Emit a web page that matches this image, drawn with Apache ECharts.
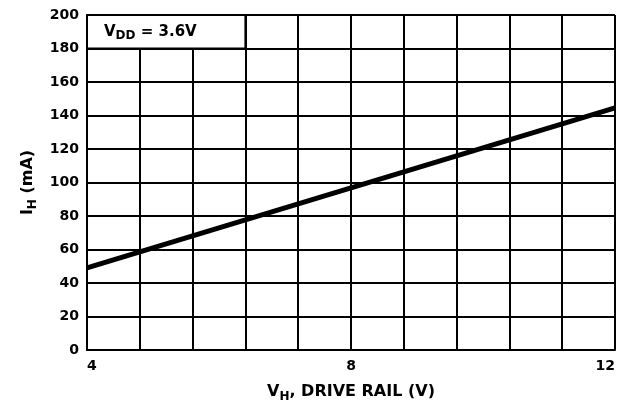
<!DOCTYPE html>
<html>
<head>
<meta charset="utf-8">
<script src="https://cdn.jsdelivr.net/npm/echarts@6/dist/echarts.min.js"></script>
<style>
  html, body { margin: 0; padding: 0; background: #fff; }
  #chart { width: 641px; height: 406px; }
</style>
</head>
<body>
<div id="chart"></div>
<script>
// drive rail voltage (V) vs I_H (mA)
const drive_rail = [4, 12];
const current_ma = [49, 144.5];
const x_labels = [4, 8, 12];
const vdd_box = [[4, 180], [6.4, 200]];

const font = "DejaVu Sans, sans-serif";
const line_data = drive_rail.map((v, i) => [v, current_ma[i]]);

const rich_name = {
  m: { fontFamily: font, fontWeight: "bold", fontSize: 16, color: "#000" },
  s: { fontFamily: font, fontWeight: "bold", fontSize: 12, color: "#000", padding: [10, 0, 0, 0] }
};
const rich_box = {
  m: { fontFamily: font, fontWeight: "bold", fontSize: 15, color: "#000" },
  s: { fontFamily: font, fontWeight: "bold", fontSize: 12, color: "#000", padding: [9, 0, 0, 0] }
};

let chart = echarts.init(document.getElementById("chart"));
chart.setOption({
  animation: false,
  grid: { left: 87, right: 26, top: 15, bottom: 56, outerBoundsMode: "none", containLabel: false },
  xAxis: {
    type: "value",
    min: 4,
    max: 12,
    interval: 0.8,
    name: "{m|V}{s|H}{m|, DRIVE RAIL (V)}",
    nameLocation: "middle",
    nameGap: 31,
    nameTextStyle: { rich: rich_name },
    axisLine: { lineStyle: { color: "#000", width: 2 } },
    axisTick: { show: false },
    splitLine: { show: true, lineStyle: { color: "#000", width: 2 } },
    axisLabel: {
      color: "#000",
      fontFamily: font,
      fontWeight: "bold",
      fontSize: 14,
      margin: 9,
      alignMinLabel: "left",
      alignMaxLabel: "right",
      formatter: function(v) {
        return x_labels.some(l => Math.abs(l - v) < 1e-6) ? String(Math.round(v)) : "";
      }
    }
  },
  yAxis: {
    type: "value",
    min: 0,
    max: 200,
    interval: 20,
    name: "{m|I}{s|H}{m| (mA)}",
    nameLocation: "middle",
    nameGap: 48,
    nameTextStyle: { rich: rich_name },
    axisLine: { show: true, lineStyle: { color: "#000", width: 2 } },
    axisTick: { show: false },
    splitLine: { show: true, lineStyle: { color: "#000", width: 2 } },
    axisLabel: {
      color: "#000",
      fontFamily: font,
      fontWeight: "bold",
      fontSize: 14,
      margin: 8
    }
  },
  series: [
    {
      type: "line",
      data: line_data,
      symbol: "none",
      lineStyle: { color: "#000", width: 5 },
      markArea: {
        silent: true,
        itemStyle: { color: "#fff", opacity: 1, borderColor: "#000", borderWidth: 2 },
        label: {
          show: true,
          position: "insideLeft",
          distance: 18,
          formatter: "{m|V}{s|DD}{m| = 3.6V}",
          rich: rich_box
        },
        data: [[{ coord: vdd_box[0] }, { coord: vdd_box[1] }]]
      }
    }
  ]
});
</script>
</body>
</html>
